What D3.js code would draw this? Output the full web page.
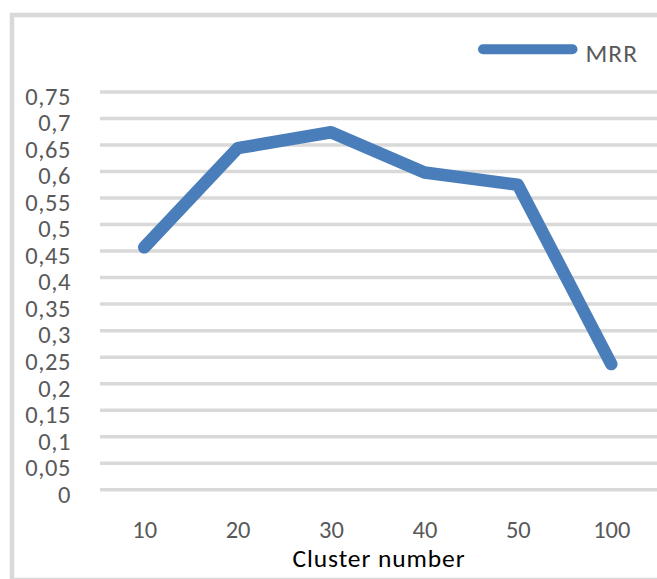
<!DOCTYPE html>
<html>
<head>
<meta charset="utf-8">
<script src="https://cdn.jsdelivr.net/npm/d3@7"></script>
<style>
  html, body { margin: 0; padding: 0; background: #fff; }
  svg { display: block; }
  text { font-family: Carlito, Calibri, Lato, sans-serif; }
</style>
</head>
<body>
<script>
(function () {
  'use strict';

  var categories = ['10', '20', '30', '40', '50', '100'],
    mrrValues = [0.456, 0.643, 0.673, 0.597, 0.574, 0.236],
    yTicks = [0, 0.05, 0.1, 0.15, 0.2, 0.25, 0.3, 0.35, 0.4, 0.45, 0.5, 0.55, 0.6, 0.65, 0.7, 0.75],
    seriesName = 'MRR',
    xTitle = 'Cluster number';

  var width = 657,
    height = 579,
    blue = '#4a7ebb',
    grid = '#d9d9d9',
    labelColor = '#595959';

  var svg, x, y, locale, fmt, yAxis, xAxis, line;

  init();

  function init() {
    svg = d3.select('body')
      .append('svg')
      .attr('width', width)
      .attr('height', height);

    // outer chart frame
    svg.append('rect')
      .attr('x', 12)
      .attr('y', 15)
      .attr('width', 700)
      .attr('height', 565)
      .attr('fill', 'none')
      .attr('stroke', grid)
      .attr('stroke-width', 4.5);

    x = d3.scalePoint()
      .domain(categories)
      .range([97.5, 658])
      .padding(0.5);

    y = d3.scaleLinear()
      .domain([0, 0.75])
      .range([489.3, 91.4]);

    locale = d3.formatLocale({
      decimal: ',',
      thousands: '.',
      grouping: [3],
      currency: ['', '']
    });
    fmt = locale.format('.2~f');

    // y axis with gridlines
    yAxis = svg.append('g')
      .attr('transform', 'translate(100,0)')
      .call(d3.axisLeft(y)
        .tickValues(yTicks)
        .tickFormat(fmt)
        .tickSizeInner(-560)
        .tickSizeOuter(0)
        .tickPadding(29));

    yAxis.select('.domain').remove();
    yAxis.selectAll('.tick line')
      .attr('stroke', grid)
      .attr('stroke-width', 3.5);
    yAxis.selectAll('.tick text')
      .attr('dy', null)
      .attr('y', 12.8)
      .attr('fill', labelColor)
      .style('font-size', '24.5px')
      .style('letter-spacing', '0.6px');

    // x axis labels
    xAxis = svg.append('g')
      .attr('transform', 'translate(0,489.3)')
      .call(d3.axisBottom(x).tickSize(0));

    xAxis.select('.domain').remove();
    xAxis.selectAll('.tick text')
      .attr('dy', null)
      .attr('y', 49)
      .attr('fill', labelColor)
      .style('font-size', '24.5px');

    svg.append('text')
      .attr('x', 379)
      .attr('y', 566.5)
      .attr('text-anchor', 'middle')
      .attr('fill', '#000')
      .style('font-size', '25.5px')
      .style('letter-spacing', '0.9px')
      .text(xTitle);

    // series line
    line = d3.line()
      .x(function (d, i) {
        return x(categories[i]);
      })
      .y(function (d) {
        return y(d);
      });

    svg.append('path')
      .datum(mrrValues)
      .attr('d', line)
      .attr('fill', 'none')
      .attr('stroke', blue)
      .attr('stroke-width', 12.5)
      .attr('stroke-linejoin', 'round')
      .attr('stroke-linecap', 'round');

    // legend
    svg.append('line')
      .attr('x1', 483)
      .attr('x2', 572.5)
      .attr('y1', 49.3)
      .attr('y2', 49.3)
      .attr('stroke', blue)
      .attr('stroke-width', 10)
      .attr('stroke-linecap', 'round');

    svg.append('text')
      .attr('x', 585.5)
      .attr('y', 61.5)
      .attr('fill', labelColor)
      .style('font-size', '25.5px')
      .style('letter-spacing', '1px')
      .text(seriesName);
  }
}());
</script>
</body>
</html>
